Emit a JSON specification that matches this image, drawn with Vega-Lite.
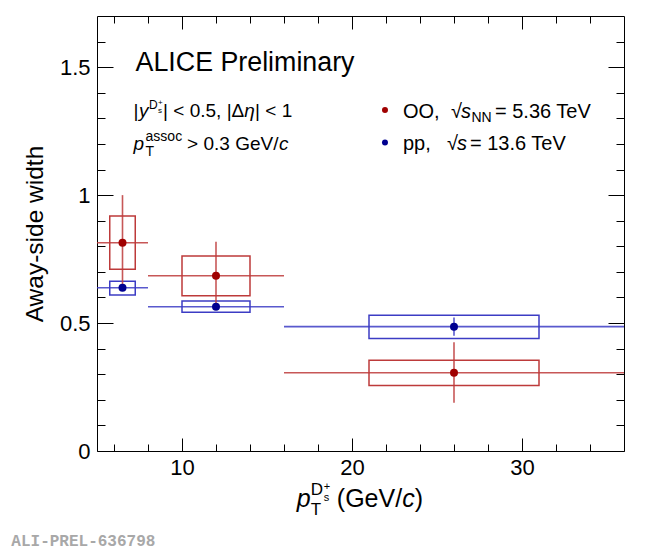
{
  "$schema": "https://vega.github.io/schema/vega-lite/v6.json",
  "width": 527,
  "height": 435,
  "autosize": {"type": "none"},
  "padding": {"left": 97, "top": 16, "right": 26, "bottom": 100},
  "config": {
    "view": {"stroke": "#000", "strokeWidth": 1},
    "font": "Liberation Sans",
    "axis": {"domain": false, "grid": false, "tickColor": "#000", "labelFlush": false, "labelOverlap": false},
    "text": {"font": "Liberation Sans", "color": "#000", "align": "left", "baseline": "alphabetic"}
  },
  "datasets": {
    "width": [
      {"series": "OO", "pt": 6.5, "ptlo": 5, "pthi": 8, "boxlo": 5.75, "boxhi": 7.25, "w": 0.814, "statlo": 0.628, "stathi": 1.0, "syslo": 0.71, "syshi": 0.918},
      {"series": "OO", "pt": 12, "ptlo": 8, "pthi": 16, "boxlo": 10, "boxhi": 14, "w": 0.685, "statlo": 0.552, "stathi": 0.818, "syslo": 0.607, "syshi": 0.762},
      {"series": "OO", "pt": 26, "ptlo": 16, "pthi": 36, "boxlo": 21, "boxhi": 31, "w": 0.306, "statlo": 0.189, "stathi": 0.425, "syslo": 0.256, "syshi": 0.355},
      {"series": "pp", "pt": 6.5, "ptlo": 5, "pthi": 8, "boxlo": 5.75, "boxhi": 7.25, "w": 0.638, "statlo": 0.626, "stathi": 0.65, "syslo": 0.61, "syshi": 0.663},
      {"series": "pp", "pt": 12, "ptlo": 8, "pthi": 16, "boxlo": 10, "boxhi": 14, "w": 0.564, "statlo": 0.553, "stathi": 0.575, "syslo": 0.542, "syshi": 0.586},
      {"series": "pp", "pt": 26, "ptlo": 16, "pthi": 36, "boxlo": 21, "boxhi": 31, "w": 0.486, "statlo": 0.45, "stathi": 0.522, "syslo": 0.44, "syshi": 0.531}
    ]
  },
  "layer": [
    {
      "data": {"name": "width"},
      "layer": [
        {
          "mark": {"type": "rect", "filled": false, "strokeWidth": 1.5},
          "encoding": {
            "x": {
              "field": "boxlo", "type": "quantitative",
              "scale": {"domain": [5, 36], "nice": false, "zero": false},
              "axis": {
                "orient": "bottom", "title": null, "values": [10, 20, 30],
                "tickSize": -13, "labelPadding": 19, "labelFontSize": 22,
                "labelFont": "Liberation Sans", "labelColor": "#000"
              }
            },
            "x2": {"field": "boxhi"},
            "y": {
              "field": "syslo", "type": "quantitative",
              "scale": {"domain": [0, 1.7], "nice": false, "zero": false},
              "axis": {
                "orient": "left", "title": "Away-side width", "values": [0, 0.5, 1, 1.5],
                "labelExpr": "format(datum.value, '~g')",
                "tickSize": -16, "labelPadding": 23, "labelFontSize": 22,
                "labelFont": "Liberation Sans", "labelColor": "#000",
                "titleFont": "Liberation Sans", "titleFontSize": 24.5, "titleFontWeight": "normal",
                "titleColor": "#000", "titlePadding": 12
              }
            },
            "y2": {"field": "syshi"},
            "stroke": {"field": "series", "type": "nominal", "scale": {"domain": ["OO", "pp"], "range": ["#bd3a3a", "#3c3cc4"]}, "legend": null}
          }
        },
        {
          "mark": {"type": "rule", "strokeWidth": 1.6, "opacity": 0.85},
          "encoding": {
            "x": {"field": "ptlo", "type": "quantitative"},
            "x2": {"field": "pthi"},
            "y": {"field": "w", "type": "quantitative"},
            "stroke": {"field": "series", "type": "nominal", "legend": null}
          }
        },
        {
          "mark": {"type": "rule", "strokeWidth": 1.6, "opacity": 0.85},
          "encoding": {
            "x": {"field": "pt", "type": "quantitative"},
            "y": {"field": "statlo", "type": "quantitative"},
            "y2": {"field": "stathi"},
            "stroke": {"field": "series", "type": "nominal", "legend": null}
          }
        },
        {
          "mark": {"type": "circle", "size": 64, "opacity": 1},
          "encoding": {
            "x": {"field": "pt", "type": "quantitative"},
            "y": {"field": "w", "type": "quantitative"},
            "fill": {"field": "series", "type": "nominal", "scale": {"domain": ["OO", "pp"], "range": ["#a00000", "#000090"]}, "legend": null}
          }
        },
        {
          "data": {"values": [{}]},
          "layer": [
            {"mark": {"type": "text", "text": "ALICE Preliminary", "fontSize": 26.8}, "encoding": {"x": {"datum": 7.269, "type": "quantitative"}, "y": {"datum": 1.4846, "type": "quantitative"}}},

            {"mark": {"type": "text", "text": "|", "fontSize": 19}, "encoding": {"x": {"datum": 7.151, "type": "quantitative"}, "y": {"datum": 1.3051, "type": "quantitative"}}},
            {"mark": {"type": "text", "text": "y", "fontSize": 19, "fontStyle": "italic", "dx": 5.5}, "encoding": {"x": {"datum": 7.151, "type": "quantitative"}, "y": {"datum": 1.3051, "type": "quantitative"}}},
            {"mark": {"type": "text", "text": "D", "fontSize": 12, "dx": 15.5, "dy": -8}, "encoding": {"x": {"datum": 7.151, "type": "quantitative"}, "y": {"datum": 1.3051, "type": "quantitative"}}},
            {"mark": {"type": "text", "text": "s", "fontSize": 8, "dx": 24.5, "dy": -4}, "encoding": {"x": {"datum": 7.151, "type": "quantitative"}, "y": {"datum": 1.3051, "type": "quantitative"}}},
            {"mark": {"type": "text", "text": "+", "fontSize": 8, "dx": 24.5, "dy": -12}, "encoding": {"x": {"datum": 7.151, "type": "quantitative"}, "y": {"datum": 1.3051, "type": "quantitative"}}},
            {"mark": {"type": "text", "text": "| < 0.5, |Δ", "fontSize": 19, "dx": 29.5}, "encoding": {"x": {"datum": 7.151, "type": "quantitative"}, "y": {"datum": 1.3051, "type": "quantitative"}}},
            {"mark": {"type": "text", "text": "η", "fontSize": 19, "fontStyle": "italic", "dx": 110.7}, "encoding": {"x": {"datum": 7.151, "type": "quantitative"}, "y": {"datum": 1.3051, "type": "quantitative"}}},
            {"mark": {"type": "text", "text": "| < 1", "fontSize": 19, "dx": 121.5}, "encoding": {"x": {"datum": 7.151, "type": "quantitative"}, "y": {"datum": 1.3051, "type": "quantitative"}}},

            {"mark": {"type": "text", "text": "p", "fontSize": 19, "fontStyle": "italic"}, "encoding": {"x": {"datum": 7.151, "type": "quantitative"}, "y": {"datum": 1.1744, "type": "quantitative"}}},
            {"mark": {"type": "text", "text": "assoc", "fontSize": 14, "dx": 12, "dy": -9.5}, "encoding": {"x": {"datum": 7.151, "type": "quantitative"}, "y": {"datum": 1.1744, "type": "quantitative"}}},
            {"mark": {"type": "text", "text": "T", "fontSize": 14, "dx": 12, "dy": 6}, "encoding": {"x": {"datum": 7.151, "type": "quantitative"}, "y": {"datum": 1.1744, "type": "quantitative"}}},
            {"mark": {"type": "text", "text": "> 0.3 GeV/", "fontSize": 19, "dx": 53.5}, "encoding": {"x": {"datum": 7.151, "type": "quantitative"}, "y": {"datum": 1.1744, "type": "quantitative"}}},
            {"mark": {"type": "text", "text": "c", "fontSize": 19, "fontStyle": "italic", "dx": 145.5}, "encoding": {"x": {"datum": 7.151, "type": "quantitative"}, "y": {"datum": 1.1744, "type": "quantitative"}}},

            {"mark": {"type": "circle", "size": 36, "opacity": 1, "color": "#a00000"}, "encoding": {"x": {"datum": 21.94, "type": "quantitative"}, "y": {"datum": 1.3324, "type": "quantitative"}}},
            {"mark": {"type": "circle", "size": 36, "opacity": 1, "color": "#000090"}, "encoding": {"x": {"datum": 21.94, "type": "quantitative"}, "y": {"datum": 1.2056, "type": "quantitative"}}},

            {"mark": {"type": "text", "text": "OO,", "fontSize": 20}, "encoding": {"x": {"datum": 23.0, "type": "quantitative"}, "y": {"datum": 1.3012, "type": "quantitative"}}},
            {"mark": {"type": "text", "text": "√", "fontSize": 20, "dx": 48}, "encoding": {"x": {"datum": 23.0, "type": "quantitative"}, "y": {"datum": 1.3012, "type": "quantitative"}}},
            {"mark": {"type": "text", "text": "s", "fontSize": 20, "fontStyle": "italic", "dx": 58}, "encoding": {"x": {"datum": 23.0, "type": "quantitative"}, "y": {"datum": 1.3012, "type": "quantitative"}}},
            {"mark": {"type": "text", "text": "NN", "fontSize": 14, "dx": 68.5, "dy": 4}, "encoding": {"x": {"datum": 23.0, "type": "quantitative"}, "y": {"datum": 1.3012, "type": "quantitative"}}},
            {"mark": {"type": "text", "text": "= 5.36 TeV", "fontSize": 20, "dx": 92}, "encoding": {"x": {"datum": 23.0, "type": "quantitative"}, "y": {"datum": 1.3012, "type": "quantitative"}}},

            {"mark": {"type": "text", "text": "pp,", "fontSize": 20}, "encoding": {"x": {"datum": 23.0, "type": "quantitative"}, "y": {"datum": 1.1744, "type": "quantitative"}}},
            {"mark": {"type": "text", "text": "√", "fontSize": 20, "dx": 44}, "encoding": {"x": {"datum": 23.0, "type": "quantitative"}, "y": {"datum": 1.1744, "type": "quantitative"}}},
            {"mark": {"type": "text", "text": "s", "fontSize": 20, "fontStyle": "italic", "dx": 54}, "encoding": {"x": {"datum": 23.0, "type": "quantitative"}, "y": {"datum": 1.1744, "type": "quantitative"}}},
            {"mark": {"type": "text", "text": "= 13.6 TeV", "fontSize": 20, "dx": 67}, "encoding": {"x": {"datum": 23.0, "type": "quantitative"}, "y": {"datum": 1.1744, "type": "quantitative"}}},

            {"mark": {"type": "text", "text": "p", "fontSize": 25, "fontStyle": "italic"}, "encoding": {"x": {"datum": 16.756, "type": "quantitative"}, "y": {"datum": -0.2204, "type": "quantitative"}}},
            {"mark": {"type": "text", "text": "T", "fontSize": 17, "dx": 14, "dy": 8}, "encoding": {"x": {"datum": 16.756, "type": "quantitative"}, "y": {"datum": -0.2204, "type": "quantitative"}}},
            {"mark": {"type": "text", "text": "D", "fontSize": 17, "dx": 14, "dy": -12}, "encoding": {"x": {"datum": 16.756, "type": "quantitative"}, "y": {"datum": -0.2204, "type": "quantitative"}}},
            {"mark": {"type": "text", "text": "s", "fontSize": 11, "dx": 27, "dy": -6}, "encoding": {"x": {"datum": 16.756, "type": "quantitative"}, "y": {"datum": -0.2204, "type": "quantitative"}}},
            {"mark": {"type": "text", "text": "+", "fontSize": 11, "dx": 27, "dy": -17}, "encoding": {"x": {"datum": 16.756, "type": "quantitative"}, "y": {"datum": -0.2204, "type": "quantitative"}}},
            {"mark": {"type": "text", "text": "(GeV/", "fontSize": 25, "dx": 40}, "encoding": {"x": {"datum": 16.756, "type": "quantitative"}, "y": {"datum": -0.2204, "type": "quantitative"}}},
            {"mark": {"type": "text", "text": "c", "fontSize": 25, "fontStyle": "italic", "dx": 105.5}, "encoding": {"x": {"datum": 16.756, "type": "quantitative"}, "y": {"datum": -0.2204, "type": "quantitative"}}},
            {"mark": {"type": "text", "text": ")", "fontSize": 25, "dx": 118}, "encoding": {"x": {"datum": 16.756, "type": "quantitative"}, "y": {"datum": -0.2204, "type": "quantitative"}}},

            {"mark": {"type": "text", "text": "ALI-PREL-636798", "font": "Liberation Mono", "fontWeight": "bold", "fontSize": 16, "color": "#a8a8a8"}, "encoding": {"x": {"datum": -0.038, "type": "quantitative"}, "y": {"datum": -0.3726, "type": "quantitative"}}}
          ]
        }
      ]
    },
    {
      "data": {"name": "width"},
      "mark": {"type": "point", "opacity": 0},
      "encoding": {
        "x": {"field": "pt", "type": "quantitative", "axis": {"orient": "bottom", "title": null, "labels": false, "tickSize": -7, "values": [6, 8, 12, 14, 16, 18, 22, 24, 26, 28, 32, 34]}},
        "y": {"field": "w", "type": "quantitative", "axis": {"orient": "left", "title": null, "labels": false, "tickSize": -8, "values": [0.1, 0.2, 0.3, 0.4, 0.6, 0.7, 0.8, 0.9, 1.1, 1.2, 1.3, 1.4, 1.6]}}
      }
    },
    {
      "data": {"name": "width"},
      "mark": {"type": "point", "opacity": 0},
      "encoding": {
        "x": {"field": "pt", "type": "quantitative", "axis": {"orient": "top", "title": null, "labels": false, "tickSize": -13, "values": [10, 20, 30]}},
        "y": {"field": "w", "type": "quantitative", "axis": {"orient": "right", "title": null, "labels": false, "tickSize": -16, "values": [0, 0.5, 1, 1.5]}}
      }
    },
    {
      "data": {"name": "width"},
      "mark": {"type": "point", "opacity": 0},
      "encoding": {
        "x": {"field": "pt", "type": "quantitative", "axis": {"orient": "top", "title": null, "labels": false, "tickSize": -7, "values": [6, 8, 12, 14, 16, 18, 22, 24, 26, 28, 32, 34]}},
        "y": {"field": "w", "type": "quantitative", "axis": {"orient": "right", "title": null, "labels": false, "tickSize": -8, "values": [0.1, 0.2, 0.3, 0.4, 0.6, 0.7, 0.8, 0.9, 1.1, 1.2, 1.3, 1.4, 1.6]}}
      }
    }
  ],
  "resolve": {"axis": {"x": "independent", "y": "independent"}}
}
